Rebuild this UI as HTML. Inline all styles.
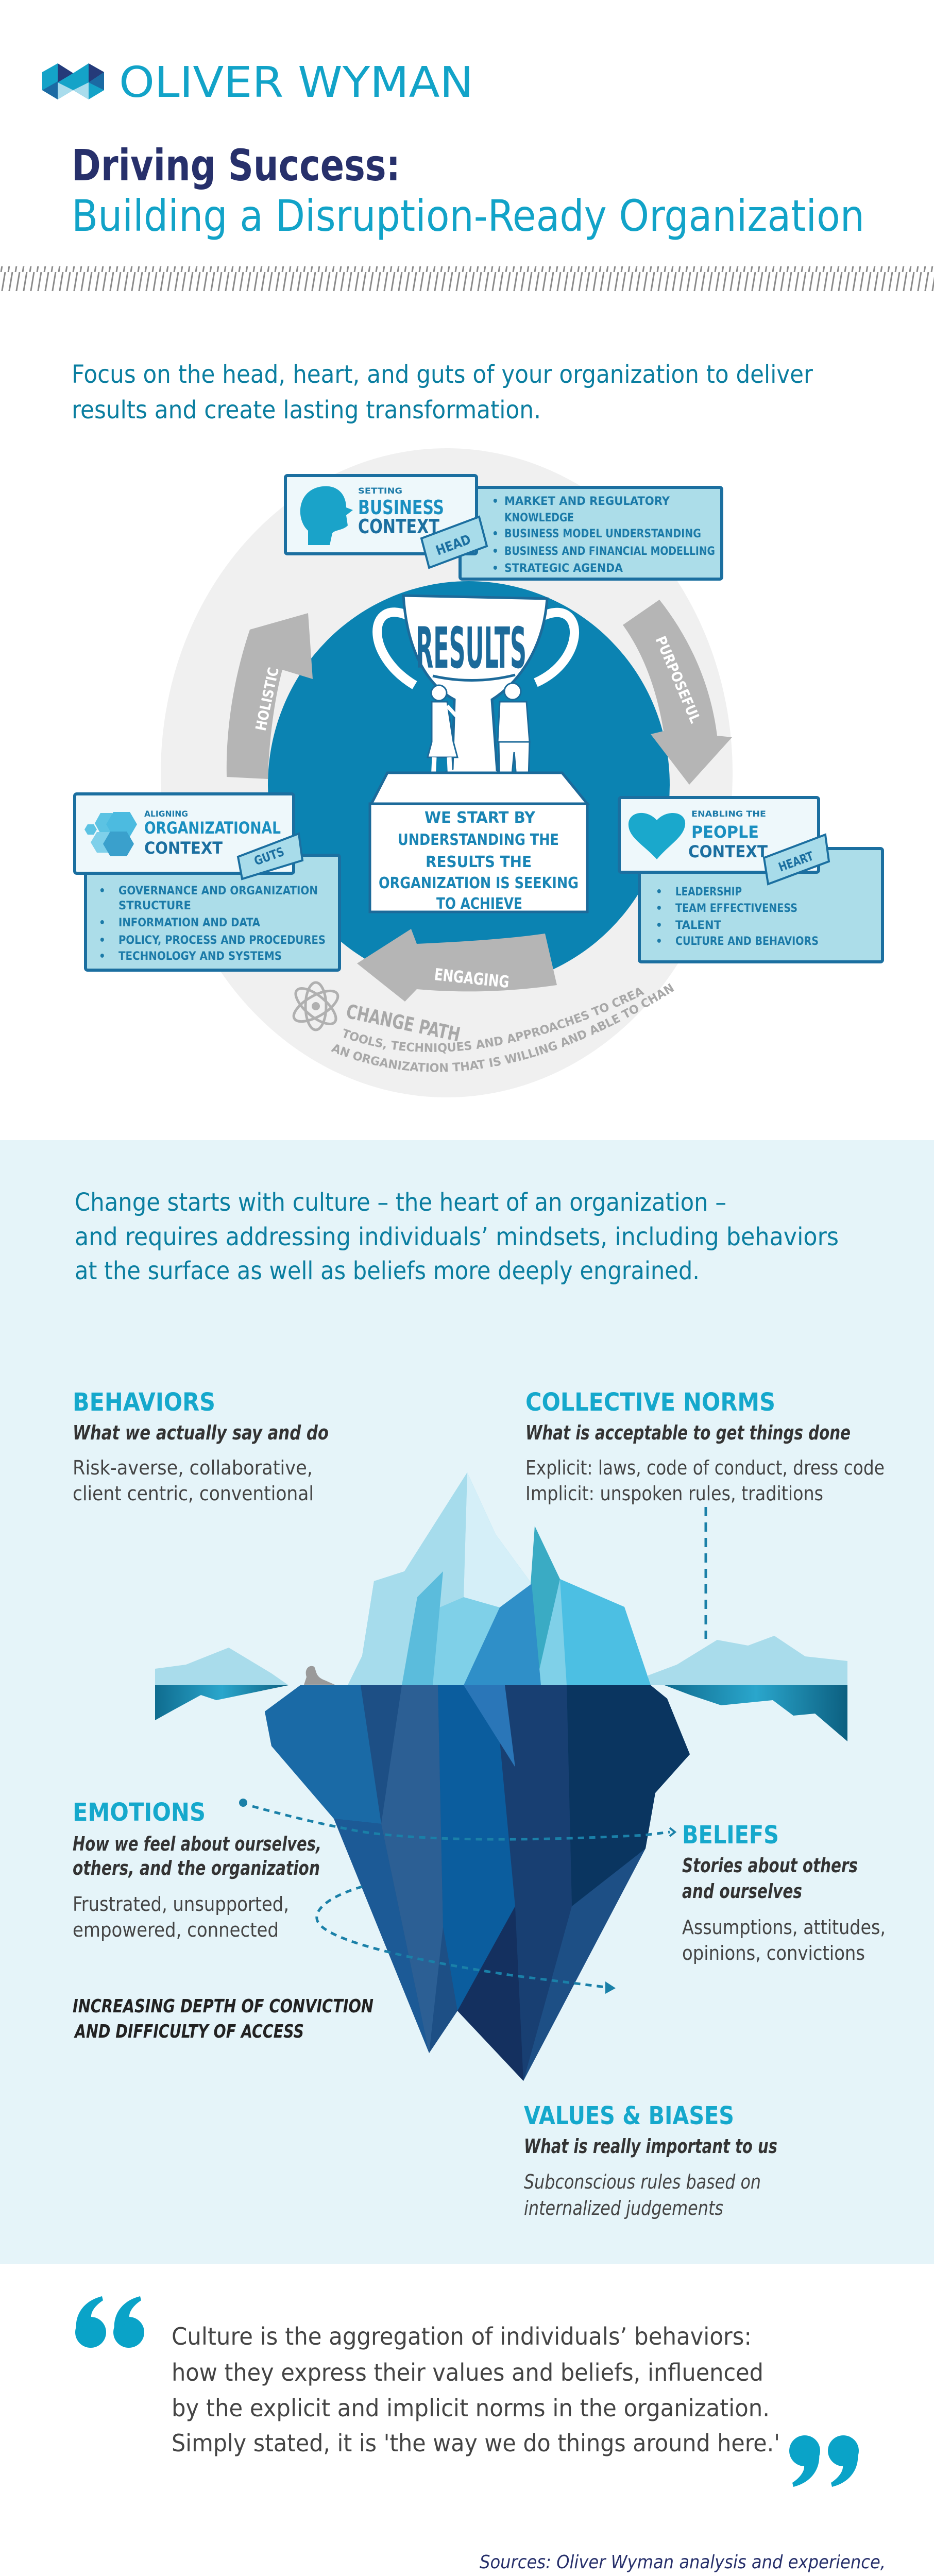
<!DOCTYPE html>
<html><head><meta charset="utf-8"><style>
html,body{margin:0;padding:0;background:#fff;width:1813px;height:5170px;overflow:hidden}
svg{display:block;overflow:hidden}
.c{font-family:"Liberation Sans Narrow","DejaVu Sans Condensed","Liberation Sans",sans-serif}
.h{font-family:"DejaVu Sans Condensed","Liberation Sans Narrow","Liberation Sans",sans-serif;font-weight:bold}
</style></head><body>
<svg width="1813" height="5170" viewBox="0 0 1813 5170" xmlns="http://www.w3.org/2000/svg">
<defs>
<pattern id="hatch" width="14" height="48" patternUnits="userSpaceOnUse">
<line x1="10" y1="0" x2="2" y2="48" stroke="#8a8a8a" stroke-width="3"/>
</pattern>
<linearGradient id="sea" x1="0" y1="0" x2="1" y2="0"><stop offset="0" stop-color="#0f6c8f"/><stop offset="0.5" stop-color="#2aa6cc"/><stop offset="1" stop-color="#0c5f80"/></linearGradient>
<path id="arc1" d="M662,2012 Q900,2100 1250,1930"/>
<path id="arc2" d="M642,2040 Q930,2160 1305,1925"/>
</defs>

<!-- Header -->
<polygon points="82,140 112,123 142,142 172,123 202,140 202,175 172,193 142,175 112,193 82,175" fill="#14a3c8"/>
<polygon points="112,123 142,142 112,160" fill="#253a7a"/>
<polygon points="172,123 202,140 172,160" fill="#253a7a"/>
<polygon points="82,175 112,158 112,193" fill="#1b6aa3"/>
<polygon points="172,160 202,140 202,175" fill="#1b6aa3"/>
<polygon points="112,160 142,175 112,193" fill="#a9dcec"/>
<polygon points="142,175 172,160 172,193" fill="#a9dcec"/>
<text class="c" x="231" y="188" font-size="82" fill="#12a3c8" textLength="688" lengthAdjust="spacingAndGlyphs">OLIVER WYMAN</text>
<text class="c" x="139" y="350" font-size="84" font-weight="bold" fill="#27306b" textLength="638" lengthAdjust="spacingAndGlyphs">Driving Success:</text>
<text class="c" x="139" y="448" font-size="84" fill="#12a3c8" textLength="1539" lengthAdjust="spacingAndGlyphs">Building a Disruption-Ready Organization</text>
<rect x="0" y="517" width="1813" height="48" fill="url(#hatch)"/>
<text class="c" x="139" y="743" font-size="48" fill="#0a7ea0" textLength="1439" lengthAdjust="spacingAndGlyphs">Focus on the head, heart, and guts of your organization to deliver</text>
<text class="c" x="139" y="812" font-size="48" fill="#0a7ea0" textLength="911" lengthAdjust="spacingAndGlyphs">results and create lasting transformation.</text>

<!-- Diagram -->
<ellipse cx="867" cy="1500" rx="555" ry="630" fill="#f0f0f0"/>
<ellipse cx="910" cy="1523" rx="390" ry="395" fill="#0b83b2"/>

<!-- arrows -->
<path d="M440,1508 C438,1420 452,1320 485,1222 L598,1190 L607,1318 L548,1300 C532,1360 522,1440 520,1512 Z" fill="#b5b5b5"/>
<text class="h" transform="translate(515,1420) rotate(-78)" font-size="28" fill="#fff" textLength="125" lengthAdjust="spacingAndGlyphs">HOLISTIC</text>
<path d="M1209,1213 L1280,1164 C1340,1240 1380,1330 1392,1428 L1421,1431 L1338,1523 L1263,1425 L1288,1419 C1275,1340 1250,1270 1209,1213 Z" fill="#b5b5b5"/>
<text class="h" transform="translate(1272,1240) rotate(67)" font-size="28" fill="#fff" textLength="180" lengthAdjust="spacingAndGlyphs">PURPOSEFUL</text>
<path d="M693,1870 L798,1803 L809,1832 C900,1828 990,1822 1058,1812 L1081,1912 C990,1925 900,1928 809,1920 L786,1944 Z" fill="#b5b5b5"/>
<text class="h" transform="translate(842,1902) rotate(6)" font-size="32" fill="#fff" textLength="146" lengthAdjust="spacingAndGlyphs">ENGAGING</text>

<!-- change path -->
<g fill="none" stroke="#b0b0b0" stroke-width="5">
<ellipse cx="613" cy="1953" rx="48" ry="20" transform="rotate(-30 613 1953)"/>
<ellipse cx="613" cy="1953" rx="48" ry="20" transform="rotate(40 613 1953)"/>
<ellipse cx="613" cy="1953" rx="20" ry="46"/>
</g>
<circle cx="613" cy="1953" r="8" fill="#b0b0b0"/>
<text class="h" transform="translate(670,1975) rotate(12)" font-size="38" fill="#a8a8a8" textLength="225" lengthAdjust="spacingAndGlyphs">CHANGE PATH</text>
<text class="h" font-size="23" fill="#a8a8a8" font-weight="normal"><textPath href="#arc1" textLength="640" lengthAdjust="spacingAndGlyphs">TOOLS, TECHNIQUES AND APPROACHES TO CREATE</textPath></text>
<text class="h" font-size="23" fill="#a8a8a8" font-weight="normal"><textPath href="#arc2" textLength="740" lengthAdjust="spacingAndGlyphs">AN ORGANIZATION THAT IS WILLING AND ABLE TO CHANGE</textPath></text>

<!-- Head boxes -->
<rect x="893" y="946" width="508" height="178" fill="#acdde9" stroke="#1b6fa0" stroke-width="6" rx="4"/>
<rect x="554" y="923" width="371" height="152" fill="#eef8fb" stroke="#1b6fa0" stroke-width="6" rx="4"/>
<path d="M598,1058 L598,1030 C575,1010 575,955 620,945 C655,938 672,960 672,985 L685,990 L672,1000 L675,1020 C665,1030 650,1028 645,1035 L640,1058 Z" fill="#1aa3c9"/>
<text class="h" x="695" y="958" font-size="16" fill="#1b7aa8" textLength="86" lengthAdjust="spacingAndGlyphs">SETTING</text>
<text class="h" x="695" y="998" font-size="38" fill="#1a8fc0" textLength="167" lengthAdjust="spacingAndGlyphs">BUSINESS</text>
<text class="h" x="695" y="1035" font-size="38" fill="#1b6fa0" textLength="158" lengthAdjust="spacingAndGlyphs">CONTEXT</text>
<polygon points="818,1045 930,1003 945,1060 833,1102" fill="#a8dcea" stroke="#1b6fa0" stroke-width="4"/>
<text class="h" transform="translate(850,1078) rotate(-20)" font-size="26" font-weight="normal" fill="#1b6fa0" textLength="70" lengthAdjust="spacingAndGlyphs">HEAD</text>
<g class="h" font-size="22" font-weight="normal" fill="#1b7aa8">
<text x="955" y="980">•</text><text x="979" y="980" textLength="321" lengthAdjust="spacingAndGlyphs">MARKET AND REGULATORY</text>
<text x="979" y="1012" textLength="135" lengthAdjust="spacingAndGlyphs">KNOWLEDGE</text>
<text x="955" y="1043">•</text><text x="979" y="1043" textLength="382" lengthAdjust="spacingAndGlyphs">BUSINESS MODEL UNDERSTANDING</text>
<text x="955" y="1077">•</text><text x="979" y="1077" textLength="409" lengthAdjust="spacingAndGlyphs">BUSINESS AND FINANCIAL MODELLING</text>
<text x="955" y="1110">•</text><text x="979" y="1110" textLength="230" lengthAdjust="spacingAndGlyphs">STRATEGIC AGENDA</text>
</g>

<!-- Trophy -->
<g stroke="#1c6a9a" stroke-width="5" fill="#fff">
<path d="M792,1195 C715,1160 705,1270 805,1330" fill="none" stroke="#fff" stroke-width="18"/>
<path d="M1055,1195 C1135,1160 1140,1280 1040,1325" fill="none" stroke="#fff" stroke-width="18"/>
<path d="M783,1156 L1062,1162 C1055,1265 1000,1330 955,1358 L965,1495 L1036,1535 L826,1522 L878,1492 L882,1358 C830,1330 790,1265 783,1156 Z"/>
</g>
<text class="h" x="807" y="1296" font-size="110" fill="#1c6a9a" textLength="215" lengthAdjust="spacingAndGlyphs">RESULTS</text>
<path d="M840,1312 Q920,1330 1000,1310" fill="none" stroke="#1c6a9a" stroke-width="5"/>
<g fill="#fff" stroke="#1c6a9a" stroke-width="3">
<circle cx="852" cy="1345" r="15"/>
<path d="M838,1362 L868,1362 L880,1440 L888,1470 L830,1470 L838,1440 Z"/>
<path d="M868,1370 L895,1400 L905,1370" fill="none" stroke="#fff" stroke-width="7"/>
<path d="M843,1470 L840,1535 M872,1470 L875,1535" fill="none" stroke="#fff" stroke-width="9"/>
<circle cx="995" cy="1342" r="16"/>
<path d="M970,1362 L1022,1362 L1028,1440 L966,1440 Z"/>
<path d="M968,1440 L1028,1440 L1025,1545 L1005,1545 L998,1460 L990,1545 L970,1545 Z"/>
</g>
<polygon points="752,1500 1091,1500 1140,1560 721,1560" fill="#fff" stroke="#1c6a9a" stroke-width="5"/>
<rect x="718" y="1560" width="422" height="210" fill="#fff" stroke="#1c6a9a" stroke-width="5"/>
<g class="h" font-size="30" fill="#1a85b5">
<text x="824" y="1597" textLength="215" lengthAdjust="spacingAndGlyphs">WE START BY</text>
<text x="772" y="1640" textLength="313" lengthAdjust="spacingAndGlyphs">UNDERSTANDING THE</text>
<text x="826" y="1683" textLength="206" lengthAdjust="spacingAndGlyphs">RESULTS THE</text>
<text x="735" y="1724" textLength="388" lengthAdjust="spacingAndGlyphs">ORGANIZATION IS SEEKING</text>
<text x="847" y="1764" textLength="167" lengthAdjust="spacingAndGlyphs">TO ACHIEVE</text>
</g>

<!-- Org boxes -->
<rect x="166" y="1660" width="493" height="223" fill="#acdde9" stroke="#1b6fa0" stroke-width="6" rx="4"/>
<rect x="145" y="1541" width="425" height="154" fill="#eef8fb" stroke="#1b6fa0" stroke-width="6" rx="4"/>
<polygon points="195,1578 218,1578 229,1598 218,1618 195,1618 184,1598" fill="#5cc3e3"/>
<polygon points="170,1600 182,1600 188,1610 182,1620 170,1620 164,1610" fill="#5cc3e3"/>
<polygon points="188,1615 212,1615 224,1635 212,1655 188,1655 176,1635" fill="#7fd0ea"/>
<polygon points="220,1576 252,1576 266,1600 252,1624 220,1624 206,1600" fill="#4cbbe0"/>
<polygon points="214,1614 246,1614 260,1638 246,1662 214,1662 200,1638" fill="#3aa0cc"/>
<text class="h" x="280" y="1585" font-size="16" fill="#1b7aa8" textLength="85" lengthAdjust="spacingAndGlyphs">ALIGNING</text>
<text class="h" x="280" y="1618" font-size="32" fill="#1a8fc0" textLength="265" lengthAdjust="spacingAndGlyphs">ORGANIZATIONAL</text>
<text class="h" x="280" y="1657" font-size="32" fill="#1b6fa0" textLength="152" lengthAdjust="spacingAndGlyphs">CONTEXT</text>
<polygon points="462,1663 580,1618 587,1670 470,1706" fill="#a8dcea" stroke="#1b6fa0" stroke-width="4"/>
<text class="h" transform="translate(497,1680) rotate(-20)" font-size="24" font-weight="normal" fill="#1b6fa0" textLength="60" lengthAdjust="spacingAndGlyphs">GUTS</text>
<g class="h" font-size="22" font-weight="normal" fill="#1b7aa8">
<text x="192" y="1736">•</text><text x="230" y="1736" textLength="387" lengthAdjust="spacingAndGlyphs">GOVERNANCE AND ORGANIZATION</text>
<text x="230" y="1765" textLength="141" lengthAdjust="spacingAndGlyphs">STRUCTURE</text>
<text x="192" y="1798">•</text><text x="230" y="1798" textLength="275" lengthAdjust="spacingAndGlyphs">INFORMATION AND DATA</text>
<text x="192" y="1832">•</text><text x="230" y="1832" textLength="402" lengthAdjust="spacingAndGlyphs">POLICY, PROCESS AND PROCEDURES</text>
<text x="192" y="1863">•</text><text x="230" y="1863" textLength="317" lengthAdjust="spacingAndGlyphs">TECHNOLOGY AND SYSTEMS</text>
</g>

<!-- People boxes -->
<rect x="1241" y="1647" width="472" height="220" fill="#acdde9" stroke="#1b6fa0" stroke-width="6" rx="4"/>
<rect x="1202" y="1548" width="387" height="145" fill="#eef8fb" stroke="#1b6fa0" stroke-width="6" rx="4"/>
<path d="M1275,1668 C1250,1640 1218,1625 1220,1598 C1222,1575 1255,1570 1275,1592 C1295,1570 1332,1575 1330,1600 C1328,1625 1298,1640 1275,1668 Z" fill="#1aa8cc"/>
<text class="h" x="1342" y="1585" font-size="16" fill="#1b7aa8" textLength="145" lengthAdjust="spacingAndGlyphs">ENABLING THE</text>
<text class="h" x="1342" y="1626" font-size="32" fill="#1a8fc0" textLength="131" lengthAdjust="spacingAndGlyphs">PEOPLE</text>
<text class="h" x="1336" y="1664" font-size="32" fill="#1b6fa0" textLength="154" lengthAdjust="spacingAndGlyphs">CONTEXT</text>
<polygon points="1483,1665 1602,1620 1609,1672 1491,1716" fill="#a8dcea" stroke="#1b6fa0" stroke-width="4"/>
<text class="h" transform="translate(1515,1692) rotate(-20)" font-size="24" font-weight="normal" fill="#1b6fa0" textLength="70" lengthAdjust="spacingAndGlyphs">HEART</text>
<g class="h" font-size="22" font-weight="normal" fill="#1b7aa8">
<text x="1273" y="1738">•</text><text x="1311" y="1738" textLength="129" lengthAdjust="spacingAndGlyphs">LEADERSHIP</text>
<text x="1273" y="1770">•</text><text x="1311" y="1770" textLength="237" lengthAdjust="spacingAndGlyphs">TEAM EFFECTIVENESS</text>
<text x="1273" y="1803">•</text><text x="1311" y="1803" textLength="89" lengthAdjust="spacingAndGlyphs">TALENT</text>
<text x="1273" y="1834">•</text><text x="1311" y="1834" textLength="278" lengthAdjust="spacingAndGlyphs">CULTURE AND BEHAVIORS</text>
</g>

<!-- Section 2 -->
<rect x="0" y="2213" width="1813" height="2181" fill="#e5f4f9"/>
<g class="c" font-size="48" fill="#0a7ea0">
<text x="145" y="2350" textLength="1265" lengthAdjust="spacingAndGlyphs">Change starts with culture – the heart of an organization –</text>
<text x="145" y="2417" textLength="1483" lengthAdjust="spacingAndGlyphs">and requires addressing individuals’ mindsets, including behaviors</text>
<text x="145" y="2483" textLength="1213" lengthAdjust="spacingAndGlyphs">at the surface as well as beliefs more deeply engrained.</text>
</g>

<!-- iceberg -->
<polygon points="301,3271 301,3239 361,3231 444,3198 527,3248 560,3271" fill="#a9dceb"/>
<polygon points="1258,3271 1258,3252 1314,3231 1392,3183 1452,3194 1503,3175 1563,3215 1645,3224 1645,3271" fill="#a9dceb"/>
<polygon points="301,3271 560,3271 420,3300 390,3290 335,3320 301,3339" fill="url(#sea)"/>
<polygon points="1290,3271 1645,3271 1645,3380 1582,3326 1540,3330 1500,3300 1400,3310 1340,3290" fill="url(#sea)"/>
<path d="M595,3255 C590,3240 600,3230 610,3235 C615,3245 612,3255 632,3262 L650,3270 L590,3270 Z" fill="#9a9a9a"/>
<polygon points="675,3271 703,3214 726,3069 785,3050 907,2858 962,2978 1032,3074 1038,2962 1087,3065 1212,3119 1263,3271" fill="#7fd0e8"/>
<polygon points="726,3069 785,3050 907,2858 900,3100 830,3130 800,3271 675,3271 703,3214" fill="#a6dcec"/>
<polygon points="907,2858 962,2978 1032,3074 970,3120 900,3100" fill="#d5eff8"/>
<polygon points="1038,2962 1087,3065 1040,3271 1010,3271 1030,3074" fill="#3aabc4"/>
<polygon points="1087,3065 1212,3119 1263,3271 1100,3271" fill="#4cbfe3"/>
<polygon points="970,3120 1032,3074 1050,3271 900,3271" fill="#2f8fc8"/>
<polygon points="810,3100 860,3050 840,3271 780,3271" fill="#5bbcdc"/>
<polygon points="583,3271 1263,3271 1295,3297 1339,3405 1272,3480 1253,3588 1016,4039 888,3903 833,3985 648,3530 527,3389 514,3322" fill="#1d4f85"/>
<polygon points="514,3322 583,3271 700,3271 740,3540 648,3530 527,3389" fill="#1a6aa6"/>
<polygon points="648,3530 740,3540 833,3985" fill="#1c5a96"/>
<polygon points="740,3540 780,3271 850,3271 860,3740 833,3985" fill="#2c5f94"/>
<polygon points="850,3271 960,3271 1000,3700 888,3903 860,3740" fill="#0b5d9e"/>
<polygon points="960,3271 1100,3271 1110,3700 1016,4039 1000,3700" fill="#183f72"/>
<polygon points="1100,3271 1263,3271 1295,3297 1339,3405 1272,3480 1253,3588 1110,3700" fill="#0a3560"/>
<polygon points="900,3271 980,3271 1000,3430" fill="#2a76b8"/>
<polygon points="888,3903 1000,3700 1016,4039" fill="#14305f"/>

<!-- dotted path -->
<circle cx="472" cy="3499" r="8" fill="#1a80a8"/>
<path d="M490,3506 C560,3525 620,3540 700,3555 C850,3578 1100,3570 1250,3562 L1300,3556" fill="none" stroke="#1a80a8" stroke-width="5" stroke-dasharray="12,10"/>
<path d="M1300,3548 L1310,3556 L1300,3564" fill="none" stroke="#1a80a8" stroke-width="4"/>
<path d="M703,3662 C640,3680 600,3710 620,3735 C650,3770 800,3805 1000,3835 L1175,3857" fill="none" stroke="#1a80a8" stroke-width="5" stroke-dasharray="12,10"/>
<polygon points="1175,3846 1195,3859 1175,3870" fill="#1a80a8"/>
<line x1="1370" y1="2925" x2="1370" y2="3181" stroke="#1a80a8" stroke-width="5" stroke-dasharray="18,12"/>

<!-- labels -->
<g class="c">
<text x="141" y="2738" font-size="48" font-weight="bold" fill="#15a8cc" textLength="277" lengthAdjust="spacingAndGlyphs">BEHAVIORS</text>
<text x="141" y="2794" font-size="38" font-weight="bold" font-style="italic" fill="#333" textLength="497" lengthAdjust="spacingAndGlyphs">What we actually say and do</text>
<text x="141" y="2862" font-size="38" fill="#444" textLength="466" lengthAdjust="spacingAndGlyphs">Risk-averse, collaborative,</text>
<text x="141" y="2912" font-size="38" fill="#444" textLength="468" lengthAdjust="spacingAndGlyphs">client centric, conventional</text>
<text x="1020" y="2738" font-size="48" font-weight="bold" fill="#15a8cc" textLength="485" lengthAdjust="spacingAndGlyphs">COLLECTIVE NORMS</text>
<text x="1020" y="2794" font-size="38" font-weight="bold" font-style="italic" fill="#333" textLength="631" lengthAdjust="spacingAndGlyphs">What is acceptable to get things done</text>
<text x="1020" y="2862" font-size="38" fill="#444" textLength="697" lengthAdjust="spacingAndGlyphs">Explicit: laws, code of conduct, dress code</text>
<text x="1020" y="2912" font-size="38" fill="#444" textLength="578" lengthAdjust="spacingAndGlyphs">Implicit: unspoken rules, traditions</text>

<text x="141" y="3534" font-size="48" font-weight="bold" fill="#15a8cc" textLength="258" lengthAdjust="spacingAndGlyphs">EMOTIONS</text>
<text x="141" y="3592" font-size="38" font-weight="bold" font-style="italic" fill="#333" textLength="483" lengthAdjust="spacingAndGlyphs">How we feel about ourselves,</text>
<text x="141" y="3639" font-size="38" font-weight="bold" font-style="italic" fill="#333" textLength="480" lengthAdjust="spacingAndGlyphs">others, and the organization</text>
<text x="141" y="3709" font-size="38" fill="#444" textLength="420" lengthAdjust="spacingAndGlyphs">Frustrated, unsupported,</text>
<text x="141" y="3759" font-size="38" fill="#444" textLength="400" lengthAdjust="spacingAndGlyphs">empowered, connected</text>
<text x="141" y="3906" font-size="36" font-weight="bold" font-style="italic" fill="#222" textLength="584" lengthAdjust="spacingAndGlyphs">INCREASING DEPTH OF CONVICTION</text>
<text x="145" y="3955" font-size="36" font-weight="bold" font-style="italic" fill="#222" textLength="445" lengthAdjust="spacingAndGlyphs">AND DIFFICULTY OF ACCESS</text>

<text x="1324" y="3578" font-size="48" font-weight="bold" fill="#15a8cc" textLength="188" lengthAdjust="spacingAndGlyphs">BELIEFS</text>
<text x="1324" y="3634" font-size="38" font-weight="bold" font-style="italic" fill="#333" textLength="341" lengthAdjust="spacingAndGlyphs">Stories about others</text>
<text x="1324" y="3684" font-size="38" font-weight="bold" font-style="italic" fill="#333" textLength="233" lengthAdjust="spacingAndGlyphs">and ourselves</text>
<text x="1324" y="3754" font-size="38" fill="#444" textLength="395" lengthAdjust="spacingAndGlyphs">Assumptions, attitudes,</text>
<text x="1324" y="3804" font-size="38" fill="#444" textLength="355" lengthAdjust="spacingAndGlyphs">opinions, convictions</text>

<text x="1017" y="4123" font-size="48" font-weight="bold" fill="#15a8cc" textLength="408" lengthAdjust="spacingAndGlyphs">VALUES &amp; BIASES</text>
<text x="1017" y="4179" font-size="38" font-weight="bold" font-style="italic" fill="#333" textLength="492" lengthAdjust="spacingAndGlyphs">What is really important to us</text>
<text x="1017" y="4248" font-size="38" font-style="italic" fill="#444" textLength="460" lengthAdjust="spacingAndGlyphs">Subconscious rules based on</text>
<text x="1017" y="4299" font-size="38" font-style="italic" fill="#444" textLength="387" lengthAdjust="spacingAndGlyphs">internalized judgements</text>
</g>

<!-- Quote -->
<g fill="#0aa3c8">
<circle cx="176" cy="4527" r="30"/><path d="M148,4522 C145,4490 165,4465 198,4457 L200,4465 C180,4478 172,4495 180,4505 Z"/>
<circle cx="250" cy="4527" r="30"/><path d="M222,4522 C219,4490 239,4465 272,4457 L274,4465 C254,4478 246,4495 254,4505 Z"/>
<circle cx="1562" cy="4757" r="30"/><path d="M1590,4762 C1593,4794 1573,4819 1540,4827 L1538,4819 C1558,4806 1566,4789 1558,4779 Z"/>
<circle cx="1637" cy="4757" r="30"/><path d="M1665,4762 C1668,4794 1648,4819 1615,4827 L1613,4819 C1633,4806 1641,4789 1633,4779 Z"/>
</g>
<g class="c" font-size="46" fill="#444">
<text x="333" y="4551" textLength="1126" lengthAdjust="spacingAndGlyphs">Culture is the aggregation of individuals’ behaviors:</text>
<text x="333" y="4621" textLength="1149" lengthAdjust="spacingAndGlyphs">how they express their values and beliefs, influenced</text>
<text x="333" y="4690" textLength="1161" lengthAdjust="spacingAndGlyphs">by the explicit and implicit norms in the organization.</text>
<text x="333" y="4758" textLength="1181" lengthAdjust="spacingAndGlyphs">Simply stated, it is 'the way we do things around here.'</text>
</g>
<text class="c" x="141" y="5079" font-size="54" font-weight="bold" fill="#27306b" textLength="354" lengthAdjust="spacingAndGlyphs">#OWHEALTH</text>
<g class="c" font-size="36" fill="#27306b">
<text x="931" y="4985" font-style="italic" textLength="788" lengthAdjust="spacingAndGlyphs">Sources: Oliver Wyman analysis and experience,</text>
<text x="931" y="5032" font-style="italic" textLength="759" lengthAdjust="spacingAndGlyphs">Stanley N. Herman, TRW Systems Group, 1970</text>
<text x="931" y="5080" textLength="431" lengthAdjust="spacingAndGlyphs">health.oliverwyman.com</text>
</g>
</svg>
</body></html>
